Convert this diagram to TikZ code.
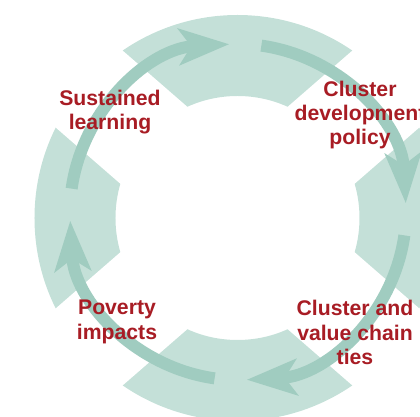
\documentclass[tikz,border=0pt]{standalone}
\usepackage{fontspec}
\setmainfont{Liberation Sans}
\usetikzlibrary{arrows.meta}
\definecolor{ringteal}{HTML}{C4E0D8}
\definecolor{arrowteal}{HTML}{A0CCC0}
\definecolor{labelred}{HTML}{A81C24}
\begin{document}
\begin{tikzpicture}[x=0.5pt, y=0.5pt,
        cyclearrow/.style={draw=arrowteal, line width=6pt,
            -{Stealth[length=25pt,width=18pt,inset=6pt]}},
        stage/.style={text=labelred, font=\fontsize{10.6}{12.2}\selectfont\bfseries,
            align=center, inner sep=0pt}]
    \useasboundingbox (-237.5,-199) rectangle (182.5,218);
    \clip (-237.5,-199) rectangle (182.5,218);
    % ring, cut in four
    \fill[ringteal, even odd rule] (0,0) circle (203) (0,0) circle (122);
    \fill[white, rotate=41] (-300,-51) rectangle (300,51);
    \fill[white, rotate=-41] (-300,-51) rectangle (300,51);
    % arrows
    \coordinate (ac) at (0.5,6);
    \foreach \a in {0,90,180,270}
        \draw[cyclearrow] (ac) ++(\a+82:168) arc[start angle=\a+82, end angle=\a+3, radius=168];
    % labels
    \node[stage] (sustained) at (-127.5,106) {Sustained\\learning};
    \node[stage] (policy) at (122.5,103) {Cluster\\development\\policy};
    \node[stage] (ties) at (117.5,-114.5) {Cluster and\\value chain\\ties};
    \node[stage] (poverty) at (-120.5,-104) {Poverty\\impacts};
\end{tikzpicture}
\end{document}
